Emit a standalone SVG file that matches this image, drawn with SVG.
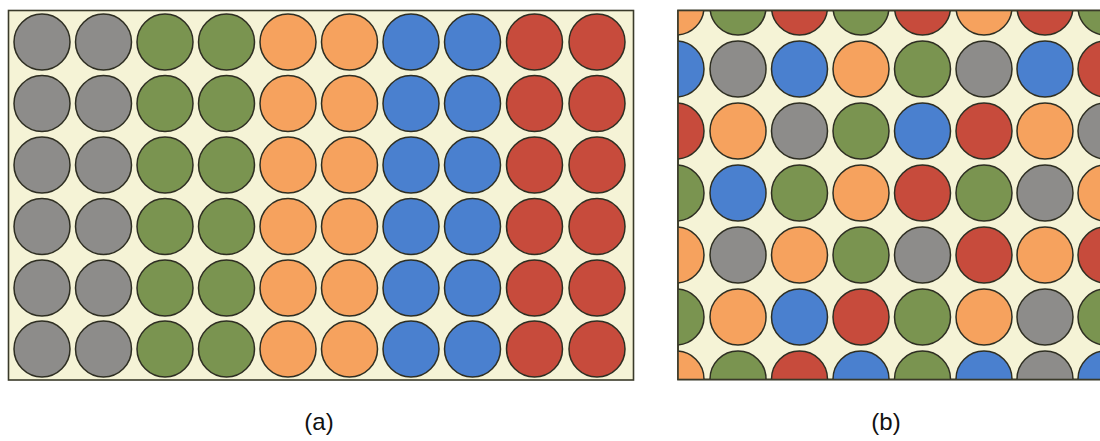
<svg xmlns="http://www.w3.org/2000/svg" xmlns:xlink="http://www.w3.org/1999/xlink" width="1100" height="441" viewBox="0 0 1100 441">
<style>
.bg{fill:#f5f3d6;stroke:#3a3a2a;stroke-width:1.6}
circle{stroke:#2e2e22;stroke-width:1.5}
.g{fill:#8d8c8a}
.v{fill:#7a9450}
.o{fill:#f6a25e}
.b{fill:#4a80cf}
.r{fill:#c74b3c}
.lbl{font-family:"Liberation Sans",Arial,sans-serif;font-size:24px;fill:#111;text-anchor:middle}
</style>
<defs>
<clipPath id="cb"><rect x="678" y="10" width="430" height="370"/></clipPath>
</defs>
<g id="panel-a">
<rect class="bg" x="8.5" y="10.5" width="625" height="369.5"/>
<g id="a-circles">
<circle class="g" cx="42" cy="42" r="28"/><circle class="g" cx="103.5" cy="42" r="28"/><circle class="v" cx="165" cy="42" r="28"/><circle class="v" cx="226.5" cy="42" r="28"/><circle class="o" cx="288" cy="42" r="28"/><circle class="o" cx="349.5" cy="42" r="28"/><circle class="b" cx="411" cy="42" r="28"/><circle class="b" cx="472.5" cy="42" r="28"/><circle class="r" cx="534.5" cy="42" r="28"/><circle class="r" cx="597" cy="42" r="28"/>
<circle class="g" cx="42" cy="103.5" r="28"/><circle class="g" cx="103.5" cy="103.5" r="28"/><circle class="v" cx="165" cy="103.5" r="28"/><circle class="v" cx="226.5" cy="103.5" r="28"/><circle class="o" cx="288" cy="103.5" r="28"/><circle class="o" cx="349.5" cy="103.5" r="28"/><circle class="b" cx="411" cy="103.5" r="28"/><circle class="b" cx="472.5" cy="103.5" r="28"/><circle class="r" cx="534.5" cy="103.5" r="28"/><circle class="r" cx="597" cy="103.5" r="28"/>
<circle class="g" cx="42" cy="165" r="28"/><circle class="g" cx="103.5" cy="165" r="28"/><circle class="v" cx="165" cy="165" r="28"/><circle class="v" cx="226.5" cy="165" r="28"/><circle class="o" cx="288" cy="165" r="28"/><circle class="o" cx="349.5" cy="165" r="28"/><circle class="b" cx="411" cy="165" r="28"/><circle class="b" cx="472.5" cy="165" r="28"/><circle class="r" cx="534.5" cy="165" r="28"/><circle class="r" cx="597" cy="165" r="28"/>
<circle class="g" cx="42" cy="226.5" r="28"/><circle class="g" cx="103.5" cy="226.5" r="28"/><circle class="v" cx="165" cy="226.5" r="28"/><circle class="v" cx="226.5" cy="226.5" r="28"/><circle class="o" cx="288" cy="226.5" r="28"/><circle class="o" cx="349.5" cy="226.5" r="28"/><circle class="b" cx="411" cy="226.5" r="28"/><circle class="b" cx="472.5" cy="226.5" r="28"/><circle class="r" cx="534.5" cy="226.5" r="28"/><circle class="r" cx="597" cy="226.5" r="28"/>
<circle class="g" cx="42" cy="288" r="28"/><circle class="g" cx="103.5" cy="288" r="28"/><circle class="v" cx="165" cy="288" r="28"/><circle class="v" cx="226.5" cy="288" r="28"/><circle class="o" cx="288" cy="288" r="28"/><circle class="o" cx="349.5" cy="288" r="28"/><circle class="b" cx="411" cy="288" r="28"/><circle class="b" cx="472.5" cy="288" r="28"/><circle class="r" cx="534.5" cy="288" r="28"/><circle class="r" cx="597" cy="288" r="28"/>
<circle class="g" cx="42" cy="349" r="28"/><circle class="g" cx="103.5" cy="349" r="28"/><circle class="v" cx="165" cy="349" r="28"/><circle class="v" cx="226.5" cy="349" r="28"/><circle class="o" cx="288" cy="349" r="28"/><circle class="o" cx="349.5" cy="349" r="28"/><circle class="b" cx="411" cy="349" r="28"/><circle class="b" cx="472.5" cy="349" r="28"/><circle class="r" cx="534.5" cy="349" r="28"/><circle class="r" cx="597" cy="349" r="28"/>
</g>
</g>
<g id="panel-b">
<rect class="bg" x="678" y="10.5" width="430" height="369"/>
<g id="b-circles" clip-path="url(#cb)">
<circle class="o" cx="676" cy="7" r="28"/><circle class="v" cx="738" cy="7" r="28"/><circle class="r" cx="799.5" cy="7" r="28"/><circle class="v" cx="861" cy="7" r="28"/><circle class="r" cx="922.5" cy="7" r="28"/><circle class="o" cx="984" cy="7" r="28"/><circle class="r" cx="1045" cy="7" r="28"/><circle class="v" cx="1106" cy="7" r="28"/>
<circle class="b" cx="676" cy="69" r="28"/><circle class="g" cx="738" cy="69" r="28"/><circle class="b" cx="799.5" cy="69" r="28"/><circle class="o" cx="861" cy="69" r="28"/><circle class="v" cx="922.5" cy="69" r="28"/><circle class="g" cx="984" cy="69" r="28"/><circle class="b" cx="1045" cy="69" r="28"/><circle class="r" cx="1106" cy="69" r="28"/>
<circle class="r" cx="676" cy="131" r="28"/><circle class="o" cx="738" cy="131" r="28"/><circle class="g" cx="799.5" cy="131" r="28"/><circle class="v" cx="861" cy="131" r="28"/><circle class="b" cx="922.5" cy="131" r="28"/><circle class="r" cx="984" cy="131" r="28"/><circle class="o" cx="1045" cy="131" r="28"/><circle class="g" cx="1106" cy="131" r="28"/>
<circle class="v" cx="676" cy="193" r="28"/><circle class="b" cx="738" cy="193" r="28"/><circle class="v" cx="799.5" cy="193" r="28"/><circle class="o" cx="861" cy="193" r="28"/><circle class="r" cx="922.5" cy="193" r="28"/><circle class="v" cx="984" cy="193" r="28"/><circle class="g" cx="1045" cy="193" r="28"/><circle class="o" cx="1106" cy="193" r="28"/>
<circle class="o" cx="676" cy="255" r="28"/><circle class="g" cx="738" cy="255" r="28"/><circle class="o" cx="799.5" cy="255" r="28"/><circle class="v" cx="861" cy="255" r="28"/><circle class="g" cx="922.5" cy="255" r="28"/><circle class="r" cx="984" cy="255" r="28"/><circle class="o" cx="1045" cy="255" r="28"/><circle class="r" cx="1106" cy="255" r="28"/>
<circle class="v" cx="676" cy="317" r="28"/><circle class="o" cx="738" cy="317" r="28"/><circle class="b" cx="799.5" cy="317" r="28"/><circle class="r" cx="861" cy="317" r="28"/><circle class="v" cx="922.5" cy="317" r="28"/><circle class="o" cx="984" cy="317" r="28"/><circle class="g" cx="1045" cy="317" r="28"/><circle class="v" cx="1106" cy="317" r="28"/>
<circle class="o" cx="676" cy="379" r="28"/><circle class="v" cx="738" cy="379" r="28"/><circle class="r" cx="799.5" cy="379" r="28"/><circle class="b" cx="861" cy="379" r="28"/><circle class="v" cx="922.5" cy="379" r="28"/><circle class="b" cx="984" cy="379" r="28"/><circle class="g" cx="1045" cy="379" r="28"/><circle class="b" cx="1106" cy="379" r="28"/>
</g>
<rect x="678" y="10.5" width="430" height="369" fill="none" stroke="#3a3a2a" stroke-width="1.6"/>
</g>
<g id="labels">
<text class="lbl" x="319" y="430">(a)</text>
<text class="lbl" x="886" y="430">(b)</text>
</g>
</svg>
